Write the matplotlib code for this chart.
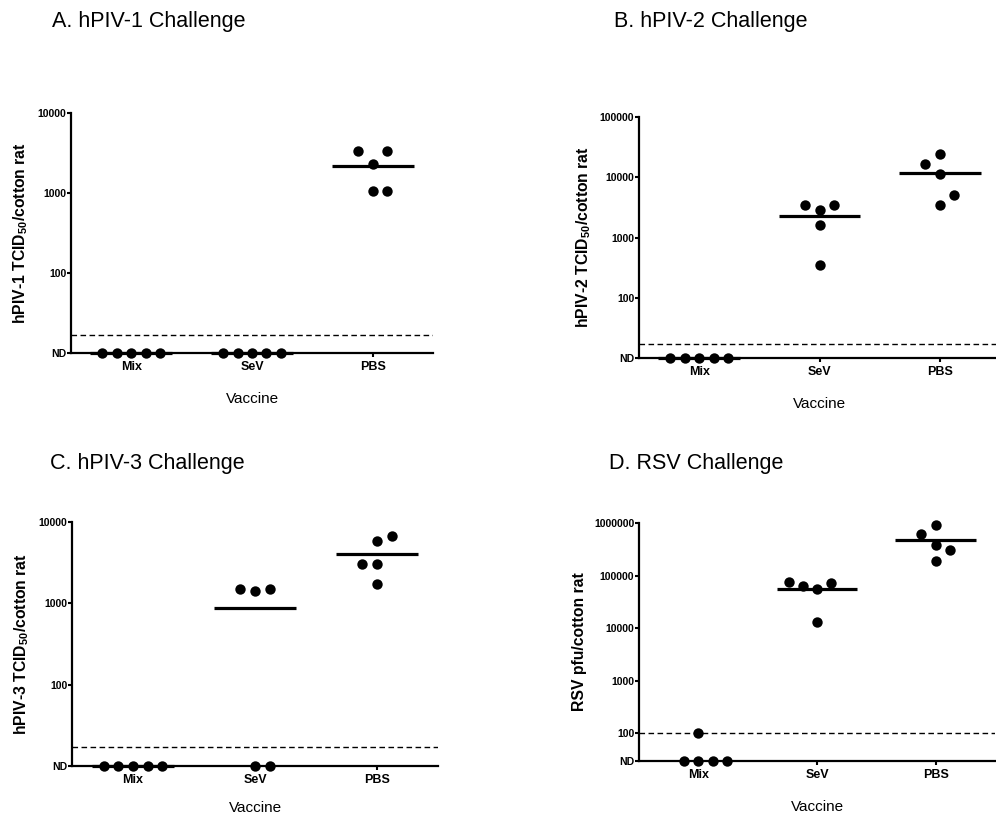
import matplotlib; matplotlib.use("Agg")
import matplotlib.pyplot as plt
import numpy as np

plt.rcParams["font.family"] = ["Liberation Sans", "DejaVu Sans"]
plt.rcParams["mathtext.fontset"] = "custom"
plt.rcParams["mathtext.rm"] = "Liberation Sans:bold"
plt.rcParams["mathtext.bf"] = "Liberation Sans:bold"
plt.rcParams["mathtext.default"] = "rm"

GROUPS = ["Mix", "SeV", "PBS"]

# titer per animal (ND plotted at the detection floor of each panel)
ND_A, ND_B, ND_C, ND_D = 10, 10, 10, 30
A_MIX = [ND_A] * 5
A_SEV = [ND_A] * 5
A_PBS = [3350, 3350, 2300, 1060, 1060]
A_MEAN = [ND_A, ND_A, 2200]
B_MIX = [ND_B] * 5
B_SEV = [3500, 3500, 2900, 1640, 345]
B_PBS = [24000, 16400, 11200, 5000, 3440]
B_MEAN = [ND_B, 2300, 11600]
C_MIX = [ND_C] * 5
C_SEV = [1490, 1400, 1500, ND_C, ND_C]
C_PBS = [6700, 5800, 3030, 3030, 1720]
C_MEAN = [ND_C, 870, 4030]
D_MIX = [100, ND_D, ND_D, ND_D, ND_D]
D_SEV = [77000, 64800, 56600, 73600, 13000]
D_PBS = [917000, 620000, 385000, 309000, 192000]
D_MEAN = [None, 56600, 478000]
LOD = {"A": 17, "B": 17, "C": 17, "D": 100}
YTICKS = {"A": [10, 100, 1000, 10000], "B": [10, 100, 1000, 10000, 100000],
          "C": [10, 100, 1000, 10000], "D": [30, 100, 1000, 10000, 100000, 1000000]}

# layout: swarm column slot of each dot (GraphPad-style scatter)
SLOTS = {"A": ([-2, -1, 0, 1, 2], [-2, -1, 0, 1, 2], [-1, 1, 0, 0, 1]),
         "B": ([-2, -1, 0, 1, 2], [-1, 1, 0, 0, 0], [0, -1, 0, 1, 0]),
         "C": ([-2, -1, 0, 1, 2], [-1, 0, 1, 0, 1], [1, 0, -1, 0, 0]),
         "D": ([0, -1, 0, 1, 2], [-2, -1, 0, 1, 0], [0, -1, 0, 1, 0])}

W, H = 996, 815
PANELS = [  # key, title, ylabel, data, means, axes box (l, t, r, b) px, title xy px, xlabel pad
    ("A", "A. hPIV-1 Challenge", "hPIV-1 TCID$_{50}$/cotton rat", (A_MIX, A_SEV, A_PBS), A_MEAN, (71, 113, 433, 353), (52, 22), 14),
    ("B", "B. hPIV-2 Challenge", "hPIV-2 TCID$_{50}$/cotton rat", (B_MIX, B_SEV, B_PBS), B_MEAN, (639, 117, 1000, 358), (614, 22), 14),
    ("C", "C. hPIV-3 Challenge", "hPIV-3 TCID$_{50}$/cotton rat", (C_MIX, C_SEV, C_PBS), C_MEAN, (72, 522, 438, 766), (50, 463), 11),
    ("D", "D. RSV Challenge", "RSV pfu/cotton rat", (D_MIX, D_SEV, D_PBS), D_MEAN, (639, 523, 995, 761), (609, 463), 14),
]

fig = plt.figure(figsize=(W / 100, H / 100), dpi=100)
for key, title, ylab, data, means, (l, t, r, b), (tx, ty), xpad in PANELS:
    ax = fig.add_axes([l / W, 1 - b / H, (r - l) / W, (b - t) / H])
    ax.set_yscale("log"); ax.set_xlim(-0.5, 2.5)
    yt = YTICKS[key]; ax.set_ylim(yt[0], yt[-1])
    slot_w = 0.12
    for gi, (vals, sl) in enumerate(zip(data, SLOTS[key])):
        ax.scatter(gi + np.array(sl) * slot_w, vals, s=56, color="black", zorder=5, clip_on=False, linewidths=0)
        if means[gi] is not None:
            ax.plot([gi - 0.34, gi + 0.34], [means[gi]] * 2, color="black", lw=2.3, zorder=4, clip_on=False,
                    solid_capstyle="butt")
    ax.axhline(LOD[key], color="black", ls=(0, (4, 2.5)), lw=1.0, zorder=3)
    ax.set_yticks(yt); ax.set_yticklabels(["ND"] + [str(v) for v in yt[1:]], fontsize=7.5, fontweight="bold")
    ax.minorticks_off()
    ax.set_xticks(range(3)); ax.set_xticklabels(GROUPS, fontsize=9, fontweight="bold")
    ax.tick_params(axis="y", length=3, width=1.5, pad=0.5)
    ax.tick_params(axis="x", length=3, width=1.5, pad=2.5)
    for s in ("top", "right"):
        ax.spines[s].set_visible(False)
    for s in ("left", "bottom"):
        ax.spines[s].set_linewidth(1.6)
    ax.set_ylabel(ylab, fontsize=11.3, fontweight="bold", labelpad=5)
    ax.set_xlabel("Vaccine", fontsize=11, labelpad=xpad)
    fig.text(tx / W, 1 - ty / H, title, fontsize=15.5, ha="left", va="center")

plt.savefig("out.png", dpi=100)
